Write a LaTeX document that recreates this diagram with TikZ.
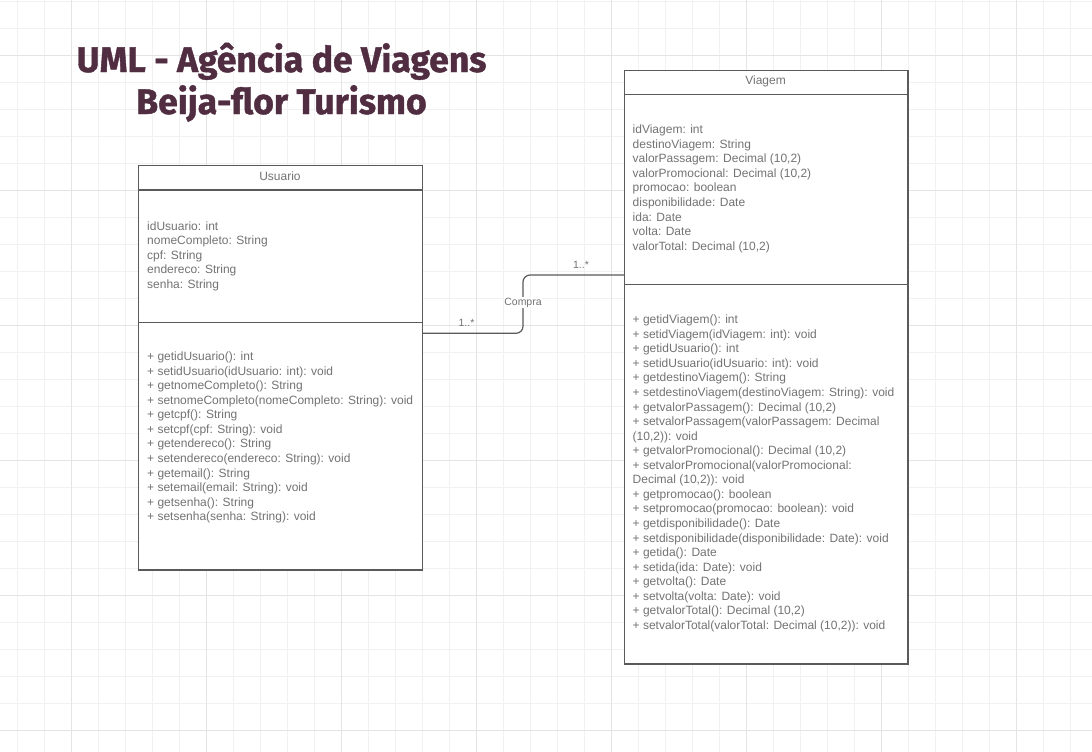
\documentclass[tikz,border=0pt]{standalone}
\usepackage{fontspec}
\setmainfont{Liberation Sans}
\newfontfamily\titlefont[BoldFeatures={FakeBold=1.2}]{Fira Sans}
\definecolor{gridminor}{HTML}{F1F1F1}
\definecolor{gridmajor}{HTML}{E4E4E4}
\definecolor{boxline}{HTML}{5A5A5A}
\definecolor{txt}{HTML}{737373}
\definecolor{ttl}{HTML}{502D41}
\tikzset{
  classbox/.style={draw=boxline, line width=1.2pt, fill=white, inner sep=0pt, anchor=north west},
  divider/.style={draw=boxline, line width=1.2pt},
  members/.style={anchor=north west, inner sep=0pt, text=txt, font=\fontsize{12}{14.55}\selectfont},
  classname/.style={anchor=base, inner sep=0pt, text=txt, font=\fontsize{12}{14}\selectfont},
  conn/.style={draw=boxline, line width=1.2pt, rounded corners=7pt},
  mult/.style={text=txt, font=\fontsize{10.5}{12}\selectfont, inner sep=1pt},
  titletext/.style={anchor=base, inner sep=0pt, text=ttl, font=\titlefont\bfseries\fontsize{35.5}{40}\selectfont},
  gridmin/.style={draw=gridminor, line width=0.8pt},
  gridmaj/.style={draw=gridmajor, line width=1pt},
}
\begin{document}
\begin{tikzpicture}[x=1pt,y=-1pt]
\useasboundingbox (0,0) rectangle (1092,752);
\fill[white] (0,0) rectangle (1092,752);
% grid
\foreach \i in {0,...,40} \draw[gridmin] ({17+27*\i},0) -- ({17+27*\i},752);
\foreach \j in {0,...,27} \draw[gridmin] (0,{1.3+27*\j}) -- (1092,{1.3+27*\j});
\foreach \i in {0,...,7} \draw[gridmaj] ({71+135*\i},0) -- ({71+135*\i},752);
\foreach \j in {0,...,5} \draw[gridmaj] (0,{55.3+135*\j}) -- (1092,{55.3+135*\j});

% title
\node[titletext] (title1) at (281.5,72) {UML - Agência de Viagens};
\node[titletext] (title2) at (281.5,114) {Beija-flor Turismo};

% Usuario class
\node[classbox, minimum width=284pt, minimum height=404.6pt] (usuario) at (138,164.7) {};
\draw[divider] (usuario.west |- 0,190) -- (usuario.east |- 0,190);
\draw[divider] (usuario.west |- 0,322.3) -- (usuario.east |- 0,322.3);
\node[classname] (usuarioname) at (280,180.7) {Usuario};
\node[members] (usuarioattr) at (147,219.8) {\begin{tabular}{@{}l@{}}
idUsuario: int\\
nomeCompleto: String\\
cpf: String\\
endereco: String\\
senha: String
\end{tabular}};
\node[members] (usuarioops) at (147,350.3) {\begin{tabular}{@{}l@{}}
+ getidUsuario(): int\\
+ setidUsuario(idUsuario: int): void\\
+ getnomeCompleto(): String\\
+ setnomeCompleto(nomeCompleto: String): void\\
+ getcpf(): String\\
+ setcpf(cpf: String): void\\
+ getendereco(): String\\
+ setendereco(endereco: String): void\\
+ getemail(): String\\
+ setemail(email: String): void\\
+ getsenha(): String\\
+ setsenha(senha: String): void
\end{tabular}};

% Viagem class
\node[classbox, minimum width=283.3pt, minimum height=593.6pt] (viagem) at (624,69.7) {};
\draw[divider] (viagem.west |- 0,94.3) -- (viagem.east |- 0,94.3);
\draw[divider] (viagem.west |- 0,284.3) -- (viagem.east |- 0,284.3);
\node[classname] (viagemname) at (765.6,84.3) {Viagem};
\node[members] (viagemattr) at (632.5,123.4) {\begin{tabular}{@{}l@{}}
idViagem: int\\
destinoViagem: String\\
valorPassagem: Decimal (10,2)\\
valorPromocional: Decimal (10,2)\\
promocao: boolean\\
disponibilidade: Date\\
ida: Date\\
volta: Date\\
valorTotal: Decimal (10,2)
\end{tabular}};
\node[members] (viagemops) at (632.5,313.4) {\begin{tabular}{@{}l@{}}
+ getidViagem(): int\\
+ setidViagem(idViagem: int): void\\
+ getidUsuario(): int\\
+ setidUsuario(idUsuario: int): void\\
+ getdestinoViagem(): String\\
+ setdestinoViagem(destinoViagem: String): void\\
+ getvalorPassagem(): Decimal (10,2)\\
+ setvalorPassagem(valorPassagem: Decimal\\
(10,2)): void\\
+ getvalorPromocional(): Decimal (10,2)\\
+ setvalorPromocional(valorPromocional:\\
Decimal (10,2)): void\\
+ getpromocao(): boolean\\
+ setpromocao(promocao: boolean): void\\
+ getdisponibilidade(): Date\\
+ setdisponibilidade(disponibilidade: Date): void\\
+ getida(): Date\\
+ setida(ida: Date): void\\
+ getvolta(): Date\\
+ setvolta(volta: Date): void\\
+ getvalorTotal(): Decimal (10,2)\\
+ setvalorTotal(valorTotal: Decimal (10,2)): void
\end{tabular}};

% association
\coordinate (ustart) at (usuario.east |- 0,333.3);
\coordinate (vend) at (viagem.west |- 0,275);
\coordinate (bend) at (523,275);
\draw[conn] (ustart) -| (bend) -- (vend);
\node[mult, fill=white, inner sep=0.5pt] (compra) at (523,302.5) {Compra};
\node[mult] (multu) at (466.5,322.5) {1..*};
\node[mult] (multv) at (581,265) {1..*};
\end{tikzpicture}
\end{document}
